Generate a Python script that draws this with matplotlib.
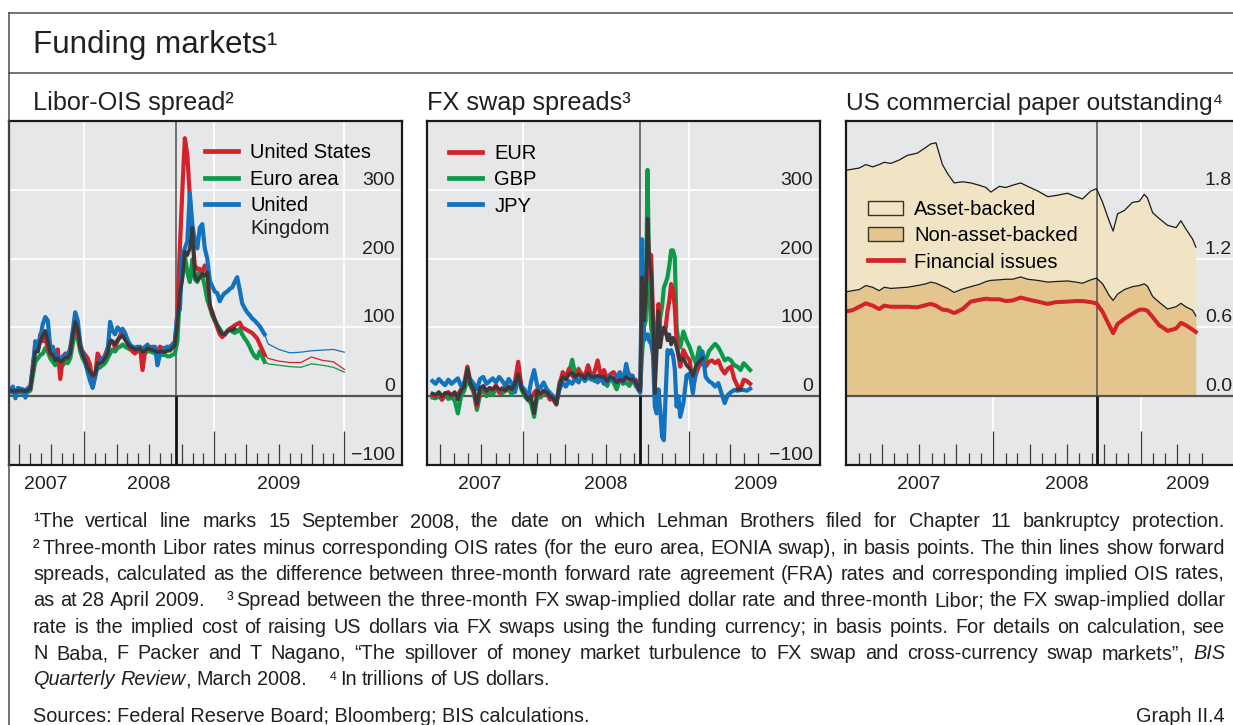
#!/usr/bin/python3
import numpy as np
import pandas as pd
import matplotlib
matplotlib.use('Agg')
from matplotlib import pyplot as plt, transforms
from matplotlib.lines import Line2D
from matplotlib.patches import Patch

plt.rcParams['font.family'] = ['Liberation Sans', 'DejaVu Sans']

nan = np.nan

# ---------------- Libor-OIS spread, basis points, weekly from 1 June 2007
libor_start = '2007-06-01'
us = [8, 9, 8, 8, 9, 8, 9, 9, 10, 12,
      45, 75, 70, 90, 80, 85, 70, 60, 65, 55,
      68, 25, 55, 62, 55, 70, 88, 100, 95, 70,
      65, 60, 55, 45, 15, 30, 62, 55, 52, 60,
      70, 82, 78, 72, 80, 88, 95, 85, 78, 70,
      65, 62, 68, 72, 38, 65, 75, 70, 72, 68,
      65, 72, 70, 66, 70, 72, 75, 80, 120, 215,
      300, 375, 350, 290, 230, 190, 185, 185, 180, 190,
      185, 130, 123, 110, 100, 90, 86, 90, 94, 98,
      100, 103, 105, 107, 100, 98, 96, 94, 92, 88,
      84, 76, 68, 60]
euro = [6, 6, 5, 6, 6, 5, 6, 5, 6, 8,
        30, 50, 55, 60, 62, 70, 65, 55, 50, 45,
        50, 48, 45, 50, 48, 55, 75, 95, 85, 65,
        55, 48, 38, 30, 32, 35, 40, 42, 45, 48,
        55, 62, 68, 65, 70, 72, 75, 72, 70, 68,
        70, 68, 65, 68, 65, 62, 66, 65, 64, 62,
        60, 62, 60, 60, 58, 58, 60, 62, 80, 150,
        175, 204, 180, 166, 199, 170, 166, 185, 175, 160,
        140, 130, 117, 110, 103, 98, 92, 89, 95, 98,
        94, 92, 94, 98, 90, 84, 79, 72, 64, 58,
        55, 65, 58, 50]
uk = [12, 10, 14, -3, 12, 11, 10, -2, 12, 14,
      40, 80, 65, 85, 105, 115, 110, 70, 72, 60,
      55, 52, 58, 60, 62, 68, 95, 122, 110, 78,
      62, 50, 35, 22, 12, 28, 45, 50, 55, 58,
      65, 108, 95, 90, 100, 95, 98, 92, 82, 75,
      72, 70, 72, 70, 68, 72, 74, 70, 68, 72,
      45, 60, 66, 70, 72, 70, 74, 78, 120, 126,
      205, 215, 225, 295, 250, 225, 215, 245, 250, 215,
      200, 168, 160, 152, 150, 138, 145, 150, 152, 156,
      158, 166, 173, 155, 135, 128, 122, 118, 113, 110,
      106, 102, 96, 90]
# dark band where the three lines lie on top of each other
libor_overlap = [8, 8, 8, 7, 8, 8, 8, 7, 9, 11,
                 38, 65, 65, 80, 88, 95, 80, 62, 60, 52,
                 55, 50, 52, 56, 56, 62, 88, 108, 98, 72,
                 60, 52, 42, 35, 30, 32, 48, 48, 50, 55,
                 62, 80, 80, 75, 82, 85, 88, 82, 76, 72,
                 70, 68, 68, 70, 64, 66, 70, 68, 67, 66,
                 64, 65, 65, 64, 66, 66, 70, 74, 105, 150,
                 170, 210, 205, 215, 245, 175, 168, 172, 178, 175,
                 180, 135, 120, 112, 104, 95, 90, 90, 94, 96,
                 96, 98, nan, nan, nan, nan, nan, nan, nan, nan,
                 nan, nan, nan, nan]
# forward spreads (thin lines)
fwd_dates = ['2009-05-22', '2009-06-01', '2009-07-01', '2009-08-01', '2009-09-01',
             '2009-10-01', '2009-11-01', '2009-12-01', '2010-01-01']
us_fwd = [60, 55, 51, 49, 49, 57, 52, 50, 39]
euro_fwd = [50, 47, 45, 43, 42, 47, 45, 42, 35]
uk_fwd = [90, 76, 68, 63, 64, 66, 67, 68, 64]

# ---------------- FX swap spreads, basis points
# weekly to 12 Sep 2008, every 4 days to 12 Dec 2008, then weekly to 15 May 2009
eur = [2, 0, 5, -5, 3, 6, 0, 4, 2, 10,
       18, 43, 20, 8, -15, 10, 14, 6, 12, 9,
       16, 5, 12, 8, 14, 10, 22, 50, 15, 6,
       2, -3, 5, 10, 2, 8, 4, -5, -2, -12,
       15, 35, 28, 40, 30, 25, 38, 32, 30, 45,
       28, 35, 52, 30, 38, 25, 32, 35, 28, 22,
       30, 26, 32, 20, 24, 12,
       12, 149, 139, 158, 190, 207, 205, 110, 85, 90, 134, 95, 91, 91, 100,
       124, 139, 163, 154, 129, 80, 60, 43,
       67, 58, 52, 14, 33, 45, 48, 43, 50, 52, 48, 52, 40, 33, 40, 43,
       25, 15, 11, 24, 22, 18]
gbp = [-2, -3, 0, -5, 2, -4, -2, -6, -25, 0,
       8, 25, 15, 5, -20, 3, 10, 0, 8, 2,
       12, 6, 4, 8, 10, 2, 15, 30, 10, 0,
       -5, -10, -30, 0, -2, 5, 8, 2, -5, -12,
       20, 30, 25, 35, 53, 30, 40, 28, 25, 32,
       30, 22, 28, 30, 25, 15, 28, 20, 10, 25,
       18, 20, 15, 25, 18, 8,
       15, 62, 100, 110, 329, 150, 100, 80, 75, 85, 91, 115, 130, 158, 165,
       173, 190, 212, 212, 202, 100, 80, 71,
       94, 81, 71, 57, 48, 71, 57, 52, 65, 71, 76, 71, 62, 52, 55, 52,
       45, 43, 38, 48, 43, 38]
jpy = [22, 18, 25, 20, 16, 24, 18, 22, 26, 15,
       20, 30, 24, 18, 10, 25, 28, 18, 22, 26,
       20, 28, 22, 15, 25, 18, 6, 28, 14, 10,
       -5, 20, 38, 15, 12, 20, 10, 5, 0, -8,
       10, 20, 14, 22, 18, 26, 20, 30, 22, 28,
       24, 30, 20, 26, 18, 25, 30, 22, 28, 35,
       20, 47, 25, 30, 15, 9,
       5, 228, 81, 85, 90, 80, 76, 60, -15, -25, 10, -20, -59, -64, 4,
       67, 62, 67, 60, 40, -15, 0, -30,
       -10, 30, 33, 4, 43, 52, 65, 28, 22, 19, 14, 19, 4, -10, 2, 6,
       9, 8, 9, 9, 8, 11]
fx_overlap = [4, 2, 6, 0, 5, 4, 2, 6, -5, 8,
              14, 40, 18, 10, -11, 12, 15, 8, 12, 10,
              14, 10, 10, 9, 14, 10, 18, 32, 12, 4,
              -5, 0, -25, 8, 4, 8, 6, 0, -3, -11,
              14, 28, 24, 32, 34, 28, 32, 30, 26, 34,
              28, 28, 30, 28, 28, 22, 28, 26, 20, 24,
              22, 28, 24, 25, 20, 10,
              8, 173, 110, 139, 258, 197, 181, 110, 4, 60, 124, 71, 90, 100, 95,
              81, 90, 75, 85, 80, 71, 60, 52,
              55, 45, 40, 30, 45, 50, 55, nan, nan, nan, nan, nan, nan, nan, nan, nan,
              nan, 10, 10, nan, nan, nan]

# ---------------- US commercial paper outstanding, trillions of USD
cp_dates = ['2007-01-01', '2007-01-17', '2007-02-03', '2007-02-19', '2007-03-08', '2007-03-24',
            '2007-04-06', '2007-04-22', '2007-05-13', '2007-06-02', '2007-06-27', '2007-07-18',
            '2007-07-30', '2007-08-12', '2007-08-28', '2007-09-10', '2007-09-26', '2007-10-17',
            '2007-11-06', '2007-11-27', '2007-12-14', '2007-12-26', '2008-01-16', '2008-02-01',
            '2008-02-18', '2008-03-09', '2008-03-26', '2008-04-20', '2008-05-15', '2008-06-04',
            '2008-07-03', '2008-07-24', '2008-08-09', '2008-08-30', '2008-09-13', '2008-09-28',
            '2008-10-14', '2008-10-24', '2008-11-04', '2008-11-21', '2008-12-11', '2008-12-28',
            '2009-01-09', '2009-01-17', '2009-01-30', '2009-02-15', '2009-03-08', '2009-03-29',
            '2009-04-10', '2009-04-22', '2009-05-09', '2009-05-17']
cp_total = [1.97, 1.98, 1.99, 2.02, 2.00, 2.02, 2.04, 2.03, 2.06, 2.10,
            2.12, 2.17, 2.20, 2.21, 2.02, 1.94, 1.86, 1.87, 1.86, 1.84,
            1.82, 1.78, 1.83, 1.82, 1.84, 1.86, 1.83, 1.79, 1.74, 1.75,
            1.77, 1.74, 1.72, 1.79, 1.81, 1.69, 1.53, 1.44, 1.59, 1.62,
            1.69, 1.70, 1.76, 1.73, 1.60, 1.55, 1.49, 1.47, 1.53, 1.46,
            1.37, 1.30]
cp_nonabcp = [0.91, 0.92, 0.93, 0.965, 0.95, 0.92, 0.95, 0.94, 0.945, 0.95,
              0.965, 0.98, 0.995, 0.985, 0.96, 0.94, 0.905, 0.935, 0.955, 0.975,
              1.0, 1.01, 1.015, 1.02, 1.02, 1.04, 1.02, 1.01, 0.995, 1.0,
              1.005, 0.995, 0.985, 1.015, 1.03, 0.98, 0.88, 0.835, 0.89, 0.93,
              0.955, 0.965, 0.98, 0.96, 0.87, 0.82, 0.76, 0.78, 0.81, 0.78,
              0.75, 0.70]
cp_fin = [0.74, 0.75, 0.78, 0.81, 0.79, 0.76, 0.79, 0.78, 0.78, 0.78,
          0.775, 0.795, 0.805, 0.79, 0.755, 0.75, 0.725, 0.76, 0.825, 0.84,
          0.85, 0.845, 0.845, 0.83, 0.835, 0.86, 0.845, 0.825, 0.805, 0.82,
          0.825, 0.83, 0.83, 0.82, 0.81, 0.735, 0.62, 0.55, 0.63, 0.675,
          0.72, 0.755, 0.755, 0.745, 0.69, 0.62, 0.57, 0.59, 0.64, 0.62,
          0.58, 0.56]

lehman = pd.Timestamp('2008-09-15')

# colours
BG = '#e6e7e8'
RED = '#d2232a'
GREEN = '#0c9a48'
BLUE = '#1172c0'
DARK = '#39393b'
LIGHT_FILL = '#f1e4c4'
DARK_FILL = '#e4c58d'
FRAME = '#4d4d4d'
INK = '#231f20'

W, H = 1233, 725
fig = plt.figure(figsize=(W / 100, H / 100), dpi=100)

TICK_FS = 14
YEAR_FS = 14
LEG_FS = 14.5
LEG_SP = 0.36


def px_axes(left, top, right, bottom):
    return fig.add_axes([left / W, 1 - bottom / H, (right - left) / W, (bottom - top) / H])


def style_panel(ax, ylim, ylabels, grid_y, xlim, grid_x, ticks_from, ticks_to, years):
    ax.set_facecolor(BG)
    ax.set_xlim(pd.Timestamp(xlim[0]), pd.Timestamp(xlim[1]))
    ax.set_ylim(*ylim)
    ax.set_xticks([])
    ax.set_yticks([])
    for s in ax.spines.values():
        s.set_linewidth(1.6)
        s.set_color('#1a1a1a')
    for v in grid_y:
        ax.axhline(v, color='white', lw=1.3, zorder=0.5)
    for d in grid_x:
        ax.axvline(pd.Timestamp(d), color='white', lw=1.3, zorder=0.5)
    # monthly ticks, quarters longer, January longest
    months = pd.date_range(ticks_from, ticks_to, freq='MS')
    hts = [0.099 if m.month == 1 else (0.061 if m.month in (4, 7, 10) else 0.035) for m in months]
    ax.vlines(months, 0, hts, transform=ax.get_xaxis_transform(), color='#3a3a3a', lw=0.9, zorder=1)
    # y labels inside on the right, just above their gridline
    tr = transforms.offset_copy(ax.get_yaxis_transform(), fig=fig, y=5, units='dots')
    for v, s in ylabels:
        ax.text(0.982, v, s, transform=tr, ha='right', va='baseline', fontsize=TICK_FS, color=INK)
    for s, d in years:
        ax.text(pd.Timestamp(d), -0.07, s, transform=ax.get_xaxis_transform(), ha='center',
                va='baseline', fontsize=YEAR_FS, color=INK)
    ax.axhline(0, color='#555555', lw=1.6, zorder=1.5)
    ax.vlines([lehman], 0, ylim[1], color='#505050', lw=1.1, zorder=1.6)
    ax.vlines([lehman], ylim[0], 0, color='#111111', lw=2.0, zorder=1.6)


bp_labels = [(300, '300'), (200, '200'), (100, '100'), (0, '0'), (-100, '\u2212100')]

# ---------------- panel 1: Libor-OIS
ax1 = px_axes(9, 121, 402, 465)
style_panel(ax1, (-100, 400), bp_labels, [100, 200, 300], ('2007-06-04', '2010-06-12'),
            ['2008-01-01', '2009-01-01', '2010-01-01'], '2007-07-01', '2010-01-01',
            [('2007', '2007-09-15'), ('2008', '2008-07-01'), ('2009', '2009-07-01')])
libor_dates = pd.date_range(libor_start, periods=len(us), freq='7D')
fwd = pd.to_datetime(fwd_dates)
ax1.plot(fwd, euro_fwd, color=GREEN, lw=0.9, zorder=2)
ax1.plot(fwd, us_fwd, color=RED, lw=0.9, zorder=2)
ax1.plot(fwd, uk_fwd, color=BLUE, lw=0.9, zorder=2)
ax1.plot(libor_dates, euro, color=GREEN, lw=3.0, zorder=2)
ax1.plot(libor_dates, us, color=RED, lw=3.0, zorder=2)
ax1.plot(libor_dates, uk, color=BLUE, lw=3.0, zorder=2)
ax1.plot(libor_dates, libor_overlap, color=DARK, lw=2.6, zorder=2.5)
hl = [Line2D([], [], color=c, lw=3.4) for c in (RED, GREEN, BLUE)]
ax1.legend(hl, ['United States', 'Euro area', 'United'], loc='upper left',
           bbox_to_anchor=((205 - 9) / 393, (465 - 143.5) / 344), frameon=False, fontsize=LEG_FS,
           handlelength=1.65, handletextpad=0.6, labelspacing=LEG_SP, borderpad=0, borderaxespad=0)
ax1.text((250 - 9) / 393, (465 - 234) / 344, 'Kingdom', transform=ax1.transAxes, fontsize=LEG_FS,
         va='baseline', color=INK)

# ---------------- panel 2: FX swap spreads
ax2 = px_axes(427, 121, 820, 465)
style_panel(ax2, (-100, 400), bp_labels, [100, 200, 300], ('2007-06-03', '2009-10-16'),
            ['2008-01-01', '2009-01-01'], '2007-07-01', '2009-06-01',
            [('2007', '2007-09-27'), ('2008', '2008-07-01'), ('2009', '2009-05-27')])
fx_dates = (pd.date_range('2007-06-15', periods=66, freq='7D')
            .append(pd.date_range('2008-09-15', periods=23, freq='4D'))
            .append(pd.date_range('2008-12-19', periods=22, freq='7D')))
ax2.plot(fx_dates, gbp, color=GREEN, lw=3.0, zorder=2)
ax2.plot(fx_dates, eur, color=RED, lw=3.0, zorder=2)
ax2.plot(fx_dates, jpy, color=BLUE, lw=3.0, zorder=2)
ax2.plot(fx_dates, fx_overlap, color=DARK, lw=2.6, zorder=2.5)
hl = [Line2D([], [], color=c, lw=3.4) for c in (RED, GREEN, BLUE)]
ax2.legend(hl, ['EUR', 'GBP', 'JPY'], loc='upper left',
           bbox_to_anchor=((449 - 427) / 393, (465 - 144) / 344), frameon=False, fontsize=LEG_FS,
           handlelength=1.65, handletextpad=0.6, labelspacing=LEG_SP, borderpad=0, borderaxespad=0)

# ---------------- panel 3: commercial paper
ax3 = px_axes(846, 121, 1239, 465)
cp_labels = [(1.8, '1.8'), (1.2, '1.2'), (0.6, '0.6'), (0.0, '0.0')]
style_panel(ax3, (-0.6, 2.4), cp_labels, [0.6, 1.2, 1.8], ('2007-01-01', '2009-09-01'),
            ['2008-01-01', '2009-01-01'], '2007-02-01', '2009-06-01',
            [('2007', '2007-07-01'), ('2008', '2008-07-01'), ('2009', '2009-04-28')])
cpd = pd.to_datetime(cp_dates)
ax3.fill_between(cpd, 0, cp_nonabcp, color=DARK_FILL, lw=0, zorder=1.2)
ax3.fill_between(cpd, cp_nonabcp, cp_total, color=LIGHT_FILL, lw=0, zorder=1.2)
ax3.plot(cpd, cp_total, color='#1a1a1a', lw=0.9, zorder=1.7)
ax3.plot(cpd, cp_nonabcp, color='#1a1a1a', lw=0.9, zorder=1.7)
ax3.plot(cpd, cp_fin, color=RED, lw=2.9, zorder=2)
hl = [Patch(facecolor=LIGHT_FILL, edgecolor='#333333', lw=1.0),
      Patch(facecolor=DARK_FILL, edgecolor='#333333', lw=1.0),
      Line2D([], [], color=RED, lw=3.4)]
ax3.legend(hl, ['Asset-backed', 'Non-asset-backed', 'Financial issues'], loc='upper left',
           bbox_to_anchor=((868 - 846) / 393, (465 - 200) / 344), frameon=False, fontsize=LEG_FS,
           handlelength=1.75, handleheight=0.7, handletextpad=0.55, labelspacing=LEG_SP,
           borderpad=0, borderaxespad=0)

# ---------------- frame and titles
fig.add_artist(Line2D([9 / W, 1], [1 - 13 / H] * 2, color=FRAME, lw=1.1))
fig.add_artist(Line2D([9 / W, 1], [1 - 73 / H] * 2, color=FRAME, lw=1.1))
fig.add_artist(Line2D([9 / W] * 2, [1 - 13 / H, 0], color=FRAME, lw=1.1))
fig.text(33 / W, 1 - 53.5 / H, 'Funding markets\u00b9', fontsize=22.6, va='baseline', color=INK)
fig.text(33 / W, 1 - 110 / H, 'Libor-OIS spread\u00b2', fontsize=18.2, va='baseline', color=INK)
fig.text(427 / W, 1 - 110 / H, 'FX swap spreads\u00b3', fontsize=18.2, va='baseline', color=INK)
fig.text(846 / W, 1 - 110 / H, 'US commercial paper outstanding\u2074', fontsize=17.6, va='baseline',
         color=INK)

# ---------------- footnotes, justified
FOOT_X0, FOOT_X1 = 33, 1225
FOOT_MAX = 14.3
rend = fig.canvas.get_renderer()


def word_width(s, style, size):
    t = fig.text(0, 0, s, fontsize=size, style=style)
    w = t.get_window_extent(renderer=rend).width
    t.remove()
    return w


def words(s, style='normal', first_gap=1):
    return [(w, style, first_gap if i == 0 else 1) for i, w in enumerate(s.split())]


def natural_width(parts, size):
    space = word_width('n n', 'normal', size) - word_width('nn', 'normal', size)
    return (sum(word_width(p[0], p[1], size) for p in parts)
            + sum(p[2] * space for p in parts[1:]))


def foot_line(base_y, parts, size, justify=True):
    space = word_width('n n', 'normal', size) - word_width('nn', 'normal', size)
    widths = [word_width(p[0], p[1], size) for p in parts]
    gaps = [0] + [p[2] * space for p in parts[1:]]
    stretch = [i for i in range(1, len(parts)) if parts[i][2] == 1]
    extra = 0
    if justify:
        extra = (FOOT_X1 - FOOT_X0 - sum(widths) - sum(gaps)) / len(stretch)
    x = FOOT_X0
    for i, (p, w) in enumerate(zip(parts, widths)):
        x += gaps[i] + (extra if i in stretch else 0)
        fig.text(x / W, 1 - base_y / H, p[0], fontsize=size, style=p[1], va='baseline', color=INK)
        x += w


foot = [
    words('\u00b9The vertical line marks 15 September 2008, the date on which Lehman Brothers '
          'filed for Chapter 11 bankruptcy protection.'),
    words('\u00b2') + words('Three-month Libor rates minus corresponding OIS rates (for the euro area, '
                            'EONIA swap), in basis points. The thin lines show forward', first_gap=0.5),
    words('spreads, calculated as the difference between three-month forward rate agreement (FRA) '
          'rates and corresponding implied OIS rates,'),
    words('as at 28 April 2009.') + words('\u00b3', first_gap=4)
    + words('Spread between the three-month FX swap-implied dollar rate and three-month Libor; '
            'the FX swap-implied dollar', first_gap=0.5),
    words('rate is the implied cost of raising US dollars via FX swaps using the funding currency; '
          'in basis points. For details on calculation, see'),
    words('N Baba, F Packer and T Nagano, \u201cThe spillover of money market turbulence to FX swap '
          'and cross-currency swap markets\u201d,') + words('BIS', 'italic'),
]
last = (words('Quarterly Review', 'italic') + words(',', first_gap=0) + words('March 2008.')
        + words('\u2074', first_gap=4) + words('In trillions of US dollars.', first_gap=0.5))

# largest size at which the widest line still fits with slightly tight spaces
widest = max(natural_width(p, 10) for p in foot)
foot_fs = min(FOOT_MAX, 10 * (FOOT_X1 - FOOT_X0) / widest * 1.01)

for i, parts in enumerate(foot):
    foot_line(527.3 + 26.35 * i, parts, foot_fs)
foot_line(527.3 + 26.35 * 6, last, foot_fs, justify=False)

fig.text(33 / W, 1 - 721.7 / H, 'Sources: Federal Reserve Board; Bloomberg; BIS calculations.',
         fontsize=foot_fs, va='baseline', color=INK)
fig.text(1225 / W, 1 - 721.7 / H, 'Graph II.4', fontsize=foot_fs, va='baseline', ha='right', color=INK)

fig.savefig('out.png', dpi=100)
